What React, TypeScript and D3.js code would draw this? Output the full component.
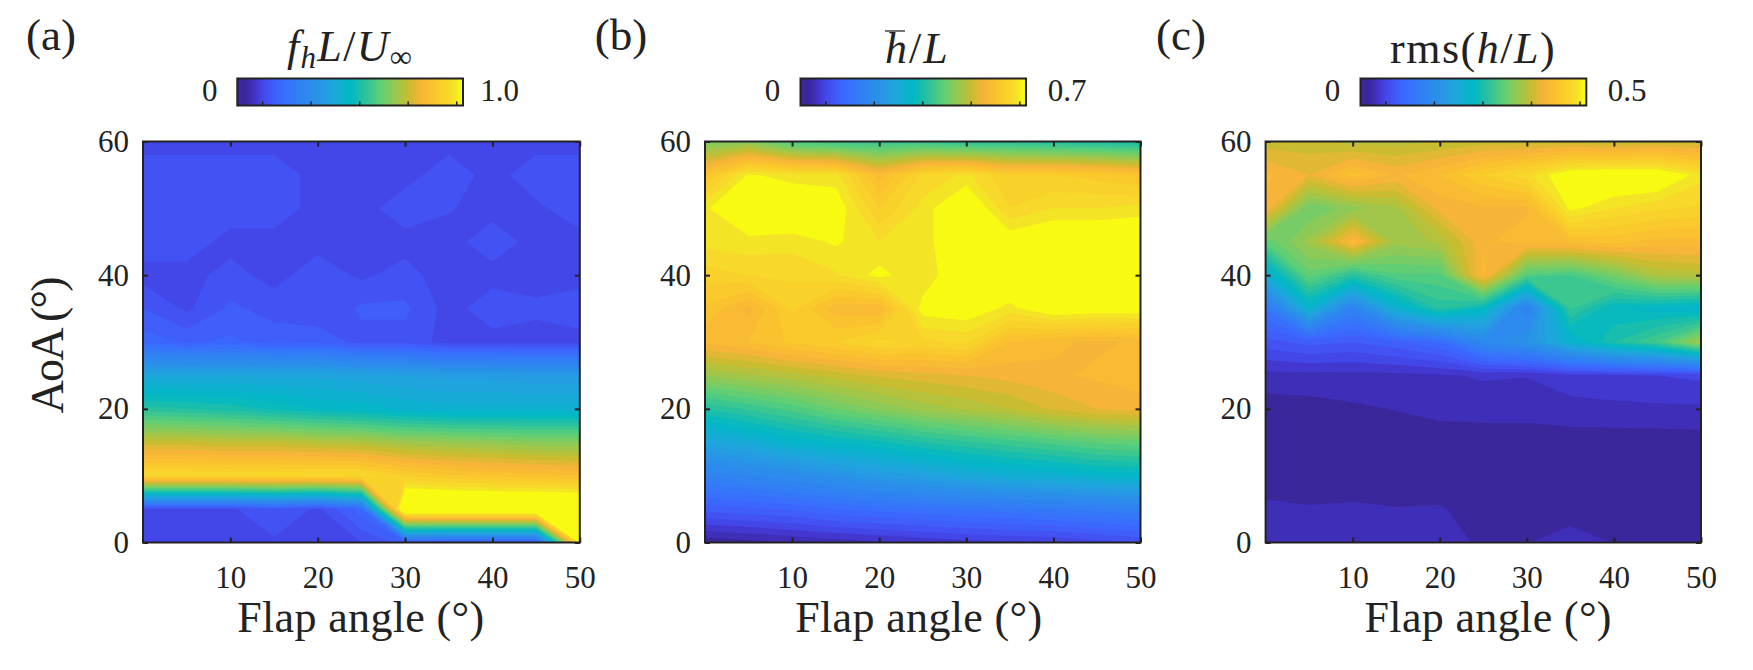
import React, { useEffect, useRef } from 'react';
import * as d3 from 'd3';

const flapAngles = [0, 5, 10, 15, 20, 25, 30, 35, 40, 45, 50];
const aoaRows = [60, 55, 50, 45, 40, 35, 30, 25, 20, 15, 10, 5, 0];
const flapTicks = [10, 20, 30, 40, 50];
const aoaTicks = [0, 20, 40, 60];

// rows follow aoaRows (top to bottom), columns follow flapAngles
const freqValues = [
  [.115, .115, .115, .115, .115, .115, .115, .115, .115, .115, .115],
  [.14, .14, .14, .14, .115, .115, .115, .14, .115, .14, .14],
  [.14, .14, .14, .14, .115, .115, .14, .127, .115, .12, .14],
  [.14, .14, .115, .115, .115, .115, .115, .115, .14, .115, .115],
  [.115, .115, .135, .115, .14, .12, .135, .11, .115, .115, .115],
  [.15, .12, .155, .14, .126, .155, .155, .115, .14, .13, .14],
  [.19, .17, .18, .165, .17, .14, .14, .115, .115, .115, .115],
  [.42, .42, .42, .42, .42, .41, .40, .39, .39, .38, .38],
  [.56, .55, .54, .52, .50, .49, .47, .46, .46, .46, .46],
  [.76, .76, .75, .75, .74, .73, .71, .70, .69, .68, .68],
  [.94, .94, .94, .94, .94, .94, .90, .88, .87, .86, .85],
  [.12, .12, .12, .15, .12, .19, 1.1, 1.1, 1.1, 1.1, 1.1],
  [.115, .115, .115, .12, .115, .125, .16, .15, .15, .15, .99],
];

const meanHeightValues = [
  [.462, .476, .42, .406, .406, .406, .392, .392, .385, .378, .371],
  [.609, .686, .672, .672, .588, .651, .669, .63, .63, .623, .609],
  [.679, .714, .714, .70, .63, .672, .714, .648, .665, .665, .672],
  [.672, .676, .672, .686, .665, .672, .714, .70, .714, .714, .714],
  [.637, .648, .651, .662, .69, .665, .714, .714, .714, .714, .714],
  [.609, .572, .634, .585, .58, .693, .70, .676, .707, .70, .70],
  [.581, .595, .616, .63, .651, .644, .651, .595, .581, .574, .581],
  [.49, .504, .518, .532, .546, .553, .56, .567, .574, .581, .588],
  [.385, .406, .427, .455, .476, .497, .511, .525, .546, .56, .567],
  [.287, .308, .336, .35, .364, .385, .399, .413, .427, .441, .448],
  [.196, .21, .224, .245, .266, .28, .301, .315, .322, .336, .343],
  [.112, .119, .126, .14, .147, .154, .161, .168, .175, .182, .189],
  [.021, .028, .035, .042, .049, .056, .063, .067, .07, .08, .091],
];

const rmsHeightValues = [
  [.38, .38, .37, .37, .375, .38, .38, .38, .375, .38, .38],
  [.415, .40, .43, .41, .425, .45, .47, .505, .51, .51, .48],
  [.41, .325, .345, .36, .405, .41, .41, .492, .475, .465, .46],
  [.315, .355, .42, .355, .365, .41, .42, .425, .43, .42, .42],
  [.225, .32, .28, .31, .31, .42, .31, .30, .33, .365, .37],
  [.115, .235, .14, .23, .28, .25, .135, .29, .25, .245, .235],
  [.07, .08, .075, .085, .10, .155, .175, .235, .275, .30, .36],
  [.033, .033, .033, .034, .036, .039, .038, .045, .048, .05, .053],
  [.018, .02, .023, .0255, .029, .03, .03, .033, .034, .035, .035],
  [.018, .018, .018, .018, .018, .018, .018, .018, .018, .018, .019],
  [.018, .018, .018, .018, .018, .018, .018, .018, .018, .018, .018],
  [.028, .026, .027, .0255, .026, .02, .02, .02, .02, .02, .02],
  [.029, .029, .029, .029, .0275, .024, .0245, .03, .0245, .02, .02],
];

const colorStops = [
  [0, '#3a289a'], [.0375, '#3b279c'], [.0625, '#3f2eb8'], [.0875, '#4238d0'],
  [.1125, '#4447e8'], [.1375, '#4352f2'], [.1625, '#3f5efa'], [.2, '#3a6cff'],
  [.27, '#3180f4'], [.35, '#2a92e8'], [.42, '#1ea6dc'], [.5, '#00b8c4'],
  [.56, '#28c0a0'], [.63, '#5ccf78'], [.7, '#98c850'], [.76, '#c8bc30'],
  [.81, '#f6b438'], [.87, '#fbc42c'], [.9375, '#f8d82a'], [.9625, '#f4e426'], [.9875, '#f8fa12'], [1, '#f9fb10'],
] as [number, string][];

const LEVELS = 40;
const FONT = '"Liberation Serif", serif';
const INK = '#222';

const cmap = d3.scaleLinear<string>()
  .domain(colorStops.map(d => d[0]))
  .range(colorStops.map(d => d[1]))
  .clamp(true);

const panels = [
  {
    id: 'a', tag: '(a)', tagX: 51, values: freqValues, max: 1, maxLabel: '1.0',
    left: 143, right: 579.8, barLeft: 237.3, barRight: 463, zeroX: 209.7, maxX: 499.5, labelX: 360.7,
  },
  {
    id: 'b', tag: '(b)', tagX: 621, values: meanHeightValues, max: 0.7, maxLabel: '0.7',
    left: 705, right: 1140.5, barLeft: 800.5, barRight: 1026, zeroX: 772.4, maxX: 1067, labelX: 918.7,
  },
  {
    id: 'c', tag: '(c)', tagX: 1181, values: rmsHeightValues, max: 0.5, maxLabel: '0.5',
    left: 1265.6, right: 1701, barLeft: 1360.5, barRight: 1586.3, zeroX: 1332.5, maxX: 1627, labelX: 1488,
  },
];

const PLOT_TOP = 141.5;
const PLOT_BOTTOM = 542.5;
const BAR_TOP = 78.5;
const BAR_BOTTOM = 105.5;
const barTickFractions = [.11, .325, .54, .755, .97];

function styleAxis(g: any) {
  g.select('.domain').remove();
  g.selectAll('.tick line').attr('stroke', INK).attr('stroke-width', 2);
  g.selectAll('.tick text')
    .attr('fill', '#222')
    .style('font-family', FONT)
    .style('font-size', '31px');
}

function drawTitle(svg: any, id: string) {
  const text = svg.append('text')
    .attr('fill', '#222')
    .style('font-family', FONT)
    .style('font-size', '44px');
  const span = (s: string, italic = true, size = 44, dy = 0) =>
    text.append('tspan')
      .attr('dy', dy)
      .style('font-style', italic ? 'italic' : 'normal')
      .style('font-size', size + 'px')
      .text(s);
  if (id === 'a') {
    text.attr('x', 287).attr('y', 61).style('letter-spacing', '1.3px');
    span('f');
    span('h', true, 31, 7);
    span('L', true, 44, -7);
    span('/', false);
    span('U');
    span('∞', false, 31, 6);
  } else if (id === 'b') {
    text.attr('x', 885).attr('y', 63).style('letter-spacing', '2px');
    span('h');
    span('/', false);
    span('L');
    svg.append('line')
      .attr('x1', 885).attr('x2', 905)
      .attr('y1', 31).attr('y2', 31)
      .attr('stroke', '#444').attr('stroke-width', 1.5);
  } else {
    text.attr('x', 1390).attr('y', 63).style('letter-spacing', '1.5px');
    span('rms(', false);
    span('h');
    span('/', false);
    span('L');
    span(')', false);
  }
}

function drawPanel(svg: any, p: typeof panels[number]) {
  const x = d3.scaleLinear().domain([0, 50]).range([p.left, p.right]);
  const y = d3.scaleLinear().domain([0, 60]).range([PLOT_BOTTOM, PLOT_TOP]);

  // d3.contours puts grid node i at i + 0.5; clamping collapses the half-cell border onto the edge
  const col = d3.scaleLinear().domain(flapAngles.map((_, i) => i + 0.5)).range(flapAngles.map(d => x(d))).clamp(true);
  const row = d3.scaleLinear().domain(aoaRows.map((_, i) => i + 0.5)).range(aoaRows.map(d => y(d))).clamp(true);
  const path = d3.geoPath(d3.geoTransform({
    point(px: number, py: number) {
      (this as any).stream.point(col(px), row(py));
    },
  }) as any);

  const thresholds = d3.range(0, LEVELS).map(k => (k / LEVELS) * p.max);
  const contours = d3.contours()
    .size([flapAngles.length, aoaRows.length])
    .thresholds(thresholds)(p.values.flat());

  svg.append('g')
    .selectAll('path')
    .data(contours)
    .join('path')
    .attr('d', (d: any) => path(d))
    .attr('fill', (d: any) => cmap((d.value / p.max) + 0.5 / LEVELS));

  svg.append('rect')
    .attr('x', p.left).attr('y', PLOT_TOP)
    .attr('width', p.right - p.left).attr('height', PLOT_BOTTOM - PLOT_TOP)
    .attr('fill', 'none').attr('stroke', INK).attr('stroke-width', 2);

  const bottom = svg.append('g').attr('transform', `translate(0,${PLOT_BOTTOM})`)
    .call(d3.axisBottom(x).tickValues(flapTicks).tickSizeInner(-5).tickSizeOuter(0).tickPadding(23));
  styleAxis(bottom);
  const top = svg.append('g').attr('transform', `translate(0,${PLOT_TOP})`)
    .call(d3.axisTop(x).tickValues(flapTicks).tickSizeInner(-5).tickSizeOuter(0).tickFormat(() => ''));
  styleAxis(top);
  const left = svg.append('g').attr('transform', `translate(${p.left},0)`)
    .call(d3.axisLeft(y).tickValues(aoaTicks).tickSizeInner(-5).tickSizeOuter(0).tickPadding(14));
  styleAxis(left);
  const right = svg.append('g').attr('transform', `translate(${p.right},0)`)
    .call(d3.axisRight(y).tickValues(aoaTicks).tickSizeInner(-5).tickSizeOuter(0).tickFormat(() => ''));
  styleAxis(right);

  svg.append('text')
    .attr('x', p.labelX)
    .attr('y', 632)
    .attr('text-anchor', 'middle')
    .attr('textLength', 247)
    .attr('fill', '#222')
    .style('font-family', FONT)
    .style('font-size', '44px')
    .text('Flap angle (°)');

  svg.append('text')
    .attr('x', p.tagX).attr('y', 50)
    .attr('text-anchor', 'middle')
    .attr('fill', '#222')
    .style('font-family', FONT)
    .style('font-size', '45px')
    .text(p.tag);

  drawTitle(svg, p.id);

  // colorbar
  const gradId = `bar-${p.id}`;
  const grad = svg.append('defs').append('linearGradient').attr('id', gradId);
  grad.selectAll('stop')
    .data(colorStops)
    .join('stop')
    .attr('offset', (d: any) => d[0])
    .attr('stop-color', (d: any) => d[1]);
  svg.append('rect')
    .attr('x', p.barLeft).attr('y', BAR_TOP)
    .attr('width', p.barRight - p.barLeft).attr('height', BAR_BOTTOM - BAR_TOP)
    .attr('fill', `url(#${gradId})`)
    .attr('stroke', INK).attr('stroke-width', 2);

  const barScale = d3.scaleLinear().domain([0, p.max]).range([p.barLeft, p.barRight]);
  const barAxis = svg.append('g').attr('transform', `translate(0,${BAR_BOTTOM})`)
    .call(d3.axisBottom(barScale).tickValues(barTickFractions.map(f => f * p.max))
      .tickSizeInner(-4).tickSizeOuter(0).tickFormat(() => ''));
  styleAxis(barAxis);
  barAxis.selectAll('.tick line').attr('stroke-width', 1.5);

  [[p.zeroX, '0'], [p.maxX, p.maxLabel]].forEach(([tx, label]) => {
    svg.append('text')
      .attr('x', tx).attr('y', 101)
      .attr('text-anchor', 'middle')
      .attr('fill', '#222')
      .style('font-family', FONT)
      .style('font-size', '31px')
      .text(label);
  });
}

export default function App() {
  const svgRef = useRef<SVGSVGElement>(null);

  useEffect(() => {
    const svg = d3.select(svgRef.current).html('');
    svg.append('rect').attr('width', 1753).attr('height', 670).attr('fill', '#fff');
    panels.forEach(p => drawPanel(svg, p));

    svg.append('text')
      .attr('transform', 'translate(63,345) rotate(-90)')
      .attr('text-anchor', 'middle')
      .attr('textLength', 137)
      .attr('fill', '#222')
      .style('font-family', FONT)
      .style('font-size', '46px')
      .text('AoA (°)');
  }, []);

  return (
    <svg
      ref={svgRef}
      width={1753}
      height={670}
      style={{ position: 'absolute', left: 0, top: 0, display: 'block' }}
    />
  );
}
